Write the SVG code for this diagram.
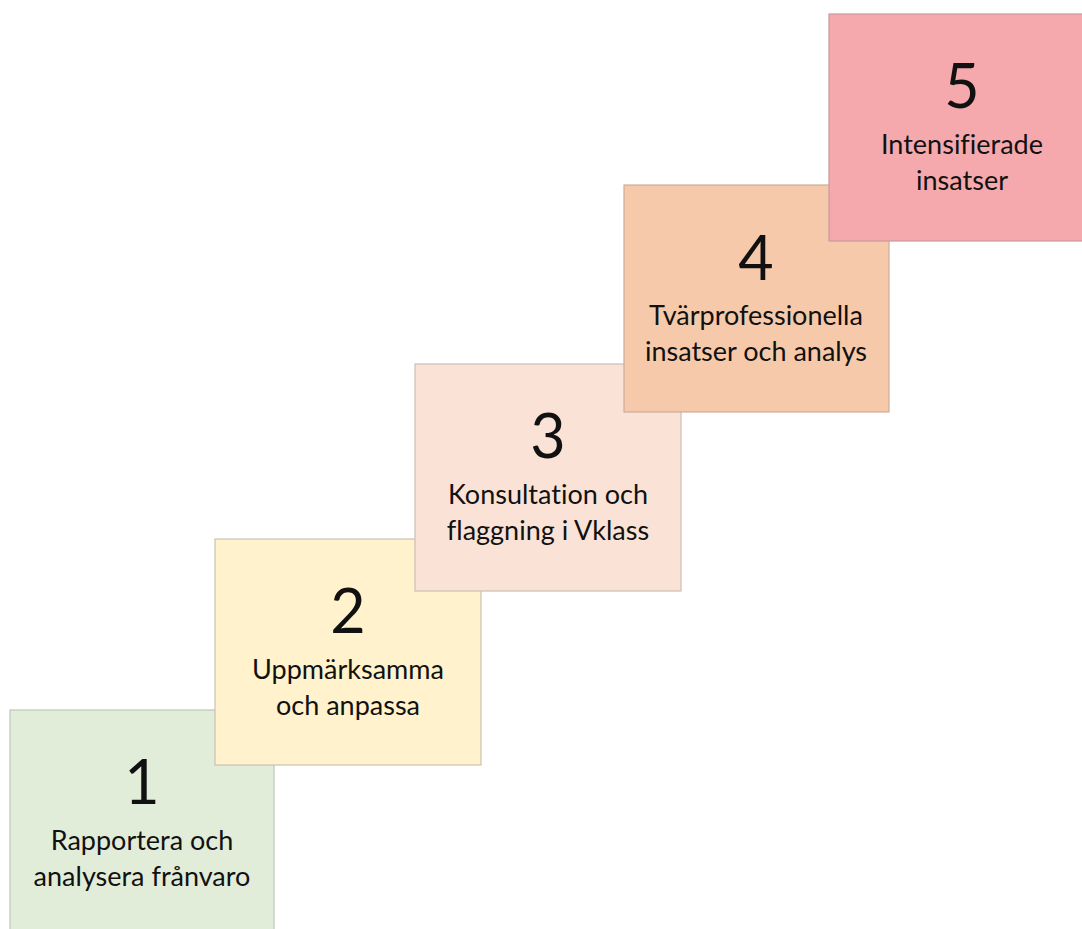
<svg xmlns="http://www.w3.org/2000/svg" width="1082" height="929" viewBox="0 0 1082 929">
<style>
.box{stroke-width:1.2}
.num{font-family:Lato,"Liberation Sans",sans-serif;font-size:61px;fill:#111;text-anchor:middle}
.lbl{font-family:Lato,"Liberation Sans",sans-serif;font-size:27px;fill:#111;text-anchor:middle;font-variant-ligatures:none}
</style>
<rect width="1082" height="929" fill="#fff"/>
<g id="step1">
<rect class="box" x="10" y="710" width="264" height="230" fill="#E2EDD9" stroke="#BFC7B8"/>
<text class="num" x="142" y="804">1</text>
<text class="lbl" x="142" y="850">Rapportera och</text>
<text class="lbl" x="142" y="886">analysera frånvaro</text>
</g>
<g id="step2">
<rect class="box" x="215" y="539" width="266" height="226" fill="#FFF2CC" stroke="#C9C2B0"/>
<text class="num" x="348" y="633">2</text>
<text class="lbl" x="348" y="679">Uppmärksamma</text>
<text class="lbl" x="348" y="715">och anpassa</text>
</g>
<g id="step3">
<rect class="box" x="415" y="364" width="266" height="227" fill="#FAE3D6" stroke="#CDBDB4"/>
<text class="num" x="548" y="458">3</text>
<text class="lbl" x="548" y="504">Konsultation och</text>
<text class="lbl" x="548" y="540">flaggning i Vklass</text>
</g>
<g id="step4">
<rect class="box" x="624" y="185" width="265" height="227" fill="#F6C9AA" stroke="#CBAE9A"/>
<text class="num" x="756" y="280">4</text>
<text class="lbl" x="756" y="325">Tvärprofessionella</text>
<text class="lbl" x="756" y="361">insatser och analys</text>
</g>
<g id="step5">
<rect class="box" x="829" y="14" width="266" height="227" fill="#F5A9AD" stroke="#C99A9C"/>
<text class="num" x="962" y="108">5</text>
<text class="lbl" x="962" y="154">Intensifierade</text>
<text class="lbl" x="962" y="190">insatser</text>
</g>
<g id="connectors"/>
</svg>
